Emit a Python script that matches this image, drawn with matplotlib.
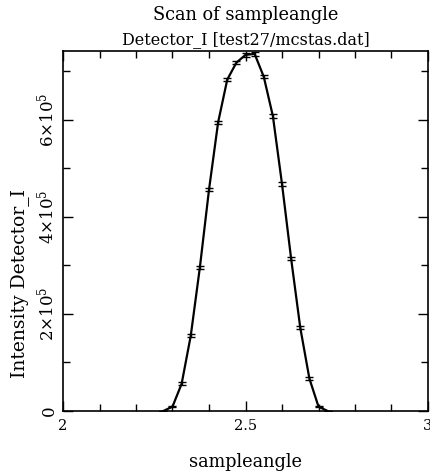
import matplotlib as mpl
mpl.use('Agg')
import matplotlib.pyplot as plt
from matplotlib.ticker import MultipleLocator, FuncFormatter

# scan data
sampleangle = [2.275, 2.300, 2.325, 2.350, 2.375, 2.400, 2.425, 2.450, 2.475,
               2.500, 2.525, 2.550, 2.575, 2.600, 2.625, 2.650, 2.675, 2.700, 2.725]
intensity = [0, 9000, 56000, 155000, 296000, 456000, 595000, 683000, 718000,
             734000, 736000, 689000, 608000, 468000, 314000, 172000, 67000, 9000, 0]
intensity_err = [0, 1500, 3000, 3500, 3500, 3500, 3500, 3500, 3500,
                 3500, 3500, 3500, 3500, 3500, 3500, 3500, 3000, 1500, 0]

TITLE_1 = "Scan of sampleangle"
TITLE_2 = "Detector_I [test27/mcstas.dat]"
X_LABEL = "sampleangle"
Y_LABEL = "Intensity Detector_I"

plt.rcParams['font.family'] = 'DejaVu Serif'
plt.rcParams['mathtext.fontset'] = 'dejavuserif'

W, H = 430, 472
fig = plt.figure(figsize=(W/100, H/100), dpi=100)
ax = fig.add_axes([63/W, 1-411/H, 365/W, 360/H])

ax.errorbar(sampleangle, intensity, yerr=intensity_err, color='black', lw=1.6,
            capsize=3, elinewidth=1, capthick=1)

ax.set_xlim(2, 3)
ax.set_ylim(0, 742000)

ax.xaxis.set_major_locator(MultipleLocator(0.5))
ax.xaxis.set_minor_locator(MultipleLocator(0.1))
ax.yaxis.set_major_locator(MultipleLocator(200000))
ax.yaxis.set_minor_locator(MultipleLocator(100000))

def xfmt(v, pos):
    return "%g" % v

def yfmt(v, pos):
    if v == 0:
        return "0"
    return r"$%d{\times}10^{5}$" % round(v / 1e5)

ax.xaxis.set_major_formatter(FuncFormatter(xfmt))
ax.yaxis.set_major_formatter(FuncFormatter(yfmt))

ax.tick_params(which='both', direction='in', top=True, right=True, width=1)
ax.tick_params(which='major', length=7)
ax.tick_params(which='minor', length=5)
ax.tick_params(axis='x', pad=6, labelsize=10.5)
ax.tick_params(axis='y', pad=4, labelsize=12)
for lbl in ax.get_yticklabels():
    lbl.set_rotation(90)
    lbl.set_va('center')
for s in ax.spines.values():
    s.set_linewidth(1.2)

fig.text(245.5/W, 1-15/H, TITLE_1, ha='center', va='center', fontsize=12.8)
fig.text(245.5/W, 1-40/H, TITLE_2, ha='center', va='center', fontsize=11.5)
fig.text(245.5/W, 1-462/H, X_LABEL, ha='center', va='center', fontsize=12.8)
fig.text(20/W, 1-284/H, Y_LABEL, ha='center', va='center', rotation=90, fontsize=13.5)

fig.savefig("out.png", dpi=100)
